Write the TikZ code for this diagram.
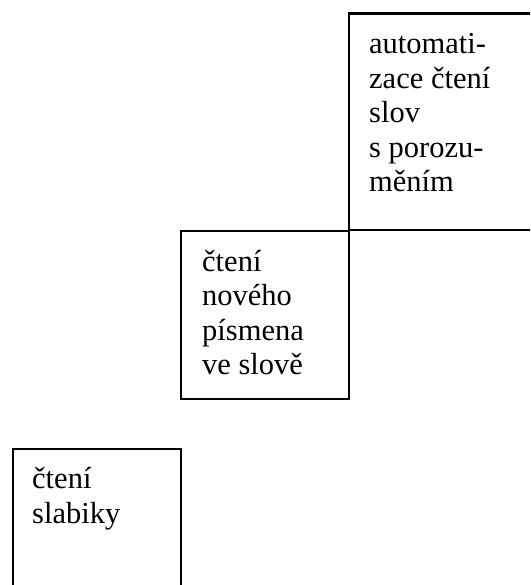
\documentclass[tikz,border=0pt]{standalone}
\usepackage{fontspec}
\setmainfont{Liberation Serif}
\usepackage{tikz}
\usetikzlibrary{positioning}
\tikzstyle{stage} = [rectangle, draw=black, line width=2.2pt, anchor=north west, inner sep=0pt]
\tikzstyle{stagetext} = [anchor=base west, align=left, inner sep=0pt,
                         font=\fontsize{30.5}{34.5}\selectfont]

\begin{document}
\begin{tikzpicture}[x=1pt,y=-1pt]
	\useasboundingbox (0,0) rectangle (530,585);
	\clip (0,0) rectangle (530,585);

	% stupne cteni
	\node[stage, minimum width=200pt, minimum height=216pt] (auto) at (348,12.5) {};
	\node[stage, minimum width=168pt, minimum height=168pt] (pismeno) at (180,230) {};
	\node[stage, minimum width=168pt, minimum height=170pt] (slabika) at (12,448) {};

	% base = posledni radek
	\node[stagetext] (autotext) at ([shift={(21pt,-179.5pt)}]auto.north west)
		{automati-\\zace čtení\\slov\\s porozu-\\měním};
	\node[stagetext] (pismenotext) at ([shift={(22pt,-144.5pt)}]pismeno.north west)
		{čtení\\nového\\písmena\\ve slově};
	\node[stagetext] (slabikatext) at ([shift={(20pt,-75pt)}]slabika.north west)
		{čtení\\slabiky};
\end{tikzpicture}
\end{document}
